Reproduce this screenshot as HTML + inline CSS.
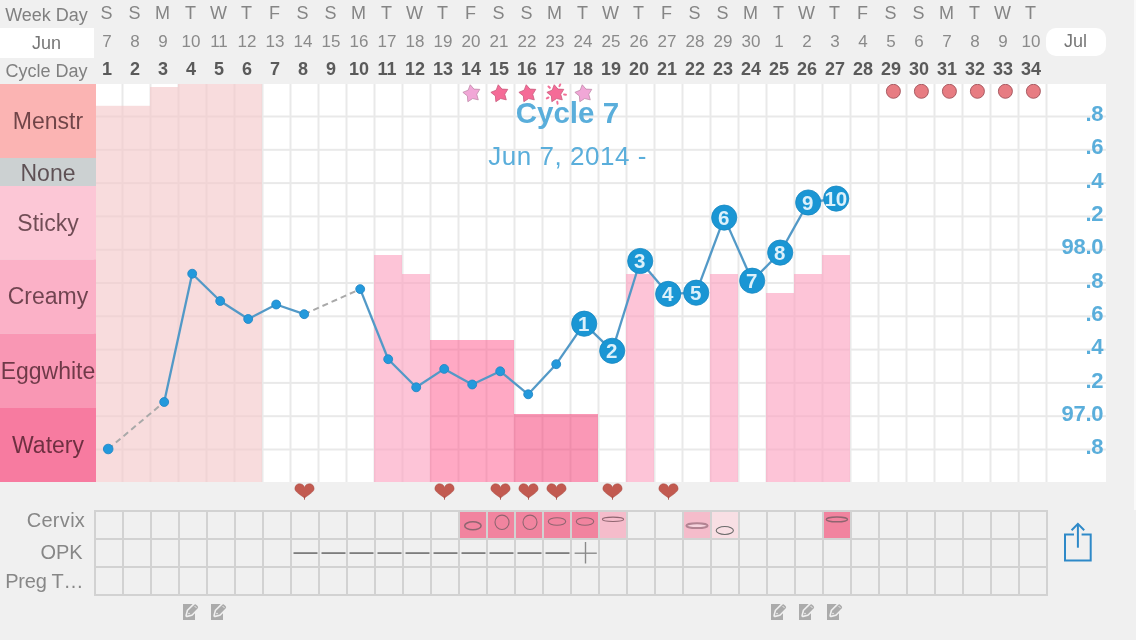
<!DOCTYPE html>
<html><head><meta charset="utf-8"><title>Chart</title>
<style>
html,body{margin:0;padding:0;background:#f0f0f0;}
body{width:1136px;height:640px;overflow:hidden;}
svg{display:block;font-family:"Liberation Sans", Arial, Helvetica, sans-serif;will-change:transform;}
</style></head><body>
<svg width="1136" height="640" viewBox="0 0 1136 640">
<defs><clipPath id="cc"><rect x="96" y="84" width="1010" height="398"/></clipPath></defs>
<rect x="0" y="0" width="1136" height="640" fill="#f0f0f0"/>
<rect x="1134" y="0" width="2" height="510" fill="#fafafa"/>
<rect x="0" y="28" width="94" height="30" fill="#fff"/>
<rect x="1046" y="28" width="60" height="28" rx="10" ry="10" fill="#fff"/>
<rect x="96" y="84" width="1010" height="398" fill="#fff"/>
<rect x="93.5" y="84" width="2" height="398" fill="#e9e9e9"/>
<rect x="121.5" y="84" width="2" height="398" fill="#e9e9e9"/>
<rect x="149.5" y="84" width="2" height="398" fill="#e9e9e9"/>
<rect x="177.5" y="84" width="2" height="398" fill="#e9e9e9"/>
<rect x="205.5" y="84" width="2" height="398" fill="#e9e9e9"/>
<rect x="233.5" y="84" width="2" height="398" fill="#e9e9e9"/>
<rect x="261.5" y="84" width="2" height="398" fill="#e9e9e9"/>
<rect x="289.5" y="84" width="2" height="398" fill="#e9e9e9"/>
<rect x="317.5" y="84" width="2" height="398" fill="#e9e9e9"/>
<rect x="345.5" y="84" width="2" height="398" fill="#e9e9e9"/>
<rect x="373.5" y="84" width="2" height="398" fill="#e9e9e9"/>
<rect x="401.5" y="84" width="2" height="398" fill="#e9e9e9"/>
<rect x="429.5" y="84" width="2" height="398" fill="#e9e9e9"/>
<rect x="457.5" y="84" width="2" height="398" fill="#e9e9e9"/>
<rect x="485.5" y="84" width="2" height="398" fill="#e9e9e9"/>
<rect x="513.5" y="84" width="2" height="398" fill="#e9e9e9"/>
<rect x="541.5" y="84" width="2" height="398" fill="#e9e9e9"/>
<rect x="569.5" y="84" width="2" height="398" fill="#e9e9e9"/>
<rect x="597.5" y="84" width="2" height="398" fill="#e9e9e9"/>
<rect x="625.5" y="84" width="2" height="398" fill="#e9e9e9"/>
<rect x="653.5" y="84" width="2" height="398" fill="#e9e9e9"/>
<rect x="681.5" y="84" width="2" height="398" fill="#e9e9e9"/>
<rect x="709.5" y="84" width="2" height="398" fill="#e9e9e9"/>
<rect x="737.5" y="84" width="2" height="398" fill="#e9e9e9"/>
<rect x="765.5" y="84" width="2" height="398" fill="#e9e9e9"/>
<rect x="793.5" y="84" width="2" height="398" fill="#e9e9e9"/>
<rect x="821.5" y="84" width="2" height="398" fill="#e9e9e9"/>
<rect x="849.5" y="84" width="2" height="398" fill="#e9e9e9"/>
<rect x="877.5" y="84" width="2" height="398" fill="#e9e9e9"/>
<rect x="905.5" y="84" width="2" height="398" fill="#e9e9e9"/>
<rect x="933.5" y="84" width="2" height="398" fill="#e9e9e9"/>
<rect x="961.5" y="84" width="2" height="398" fill="#e9e9e9"/>
<rect x="989.5" y="84" width="2" height="398" fill="#e9e9e9"/>
<rect x="1017.5" y="84" width="2" height="398" fill="#e9e9e9"/>
<rect x="1045.5" y="84" width="2" height="398" fill="#e9e9e9"/>
<rect x="96" y="115.50" width="1010" height="2" fill="#e9e9e9"/>
<rect x="96" y="148.80" width="1010" height="2" fill="#e9e9e9"/>
<rect x="96" y="182.10" width="1010" height="2" fill="#e9e9e9"/>
<rect x="96" y="215.40" width="1010" height="2" fill="#e9e9e9"/>
<rect x="96" y="248.70" width="1010" height="2" fill="#e9e9e9"/>
<rect x="96" y="282.00" width="1010" height="2" fill="#e9e9e9"/>
<rect x="96" y="315.30" width="1010" height="2" fill="#e9e9e9"/>
<rect x="96" y="348.60" width="1010" height="2" fill="#e9e9e9"/>
<rect x="96" y="381.90" width="1010" height="2" fill="#e9e9e9"/>
<rect x="96" y="415.20" width="1010" height="2" fill="#e9e9e9"/>
<rect x="96" y="448.50" width="1010" height="2" fill="#e9e9e9"/>
<rect x="94" y="105.8" width="28" height="376.2" fill="rgba(244,200,202,0.64)"/>
<rect x="122" y="105.8" width="28" height="376.2" fill="rgba(244,200,202,0.64)"/>
<rect x="150" y="87" width="28" height="395" fill="rgba(244,200,202,0.64)"/>
<rect x="178" y="84" width="28" height="398" fill="rgba(244,200,202,0.64)"/>
<rect x="206" y="84" width="28" height="398" fill="rgba(244,200,202,0.64)"/>
<rect x="234" y="84" width="28" height="398" fill="rgba(244,200,202,0.64)"/>
<rect x="374" y="255" width="28" height="227" fill="rgba(252,163,192,0.64)"/>
<rect x="402" y="274" width="28" height="208" fill="rgba(252,163,192,0.64)"/>
<rect x="430" y="340" width="28" height="142" fill="rgba(255,84,138,0.5)"/>
<rect x="458" y="340" width="28" height="142" fill="rgba(255,84,138,0.5)"/>
<rect x="486" y="340" width="28" height="142" fill="rgba(255,84,138,0.5)"/>
<rect x="514" y="414" width="28" height="68" fill="rgba(245,49,109,0.5)"/>
<rect x="542" y="414" width="28" height="68" fill="rgba(245,49,109,0.5)"/>
<rect x="570" y="414" width="28" height="68" fill="rgba(245,49,109,0.5)"/>
<rect x="626" y="274" width="28" height="208" fill="rgba(252,163,192,0.64)"/>
<rect x="710" y="274" width="28" height="208" fill="rgba(252,163,192,0.64)"/>
<rect x="766" y="293" width="28" height="189" fill="rgba(252,163,192,0.64)"/>
<rect x="794" y="274" width="28" height="208" fill="rgba(252,163,192,0.64)"/>
<rect x="822" y="255" width="28" height="227" fill="rgba(252,163,192,0.64)"/>
<rect x="0" y="84" width="96" height="74.00" fill="#fbb4b3"/>
<text x="48" y="128.9" text-anchor="middle" font-size="23" fill="#1a0006" fill-opacity="0.62">Menstr</text>
<rect x="0" y="158" width="96" height="28.00" fill="#ccd1d2"/>
<text x="48" y="181.3" text-anchor="middle" font-size="23" fill="#1a0006" fill-opacity="0.62">None</text>
<rect x="0" y="186" width="96" height="73.50" fill="#fcc7d6"/>
<text x="48" y="230.7" text-anchor="middle" font-size="23" fill="#1a0006" fill-opacity="0.62">Sticky</text>
<rect x="0" y="259.5" width="96" height="74.00" fill="#fbb1c7"/>
<text x="48" y="304.4" text-anchor="middle" font-size="23" fill="#1a0006" fill-opacity="0.62">Creamy</text>
<rect x="0" y="333.5" width="96" height="74.50" fill="#f997b4"/>
<text x="48" y="379.4" text-anchor="middle" font-size="23" fill="#1a0006" fill-opacity="0.62">Eggwhite</text>
<rect x="0" y="408" width="96" height="74.00" fill="#f77ba0"/>
<text x="48" y="452.8" text-anchor="middle" font-size="23" fill="#1a0006" fill-opacity="0.62">Watery</text>
<text x="46.5" y="20.7" text-anchor="middle" font-size="18" fill="#808080">Week Day</text>
<text x="46.5" y="48.8" text-anchor="middle" font-size="18" fill="#777">Jun</text>
<text x="46.5" y="76.8" text-anchor="middle" font-size="18" fill="#808080">Cycle Day</text>
<text x="1075.5" y="47" text-anchor="middle" font-size="18" fill="#777">Jul</text>
<text x="106.6" y="19.2" text-anchor="middle" font-size="18" fill="#858585">S</text>
<text x="107" y="46.6" text-anchor="middle" font-size="17" fill="#8a8a8a">7</text>
<text x="107" y="74.7" text-anchor="middle" font-size="18" font-weight="bold" fill="#5a5a5a">1</text>
<text x="134.6" y="19.2" text-anchor="middle" font-size="18" fill="#858585">S</text>
<text x="135" y="46.6" text-anchor="middle" font-size="17" fill="#8a8a8a">8</text>
<text x="135" y="74.7" text-anchor="middle" font-size="18" font-weight="bold" fill="#5a5a5a">2</text>
<text x="162.6" y="19.2" text-anchor="middle" font-size="18" fill="#858585">M</text>
<text x="163" y="46.6" text-anchor="middle" font-size="17" fill="#8a8a8a">9</text>
<text x="163" y="74.7" text-anchor="middle" font-size="18" font-weight="bold" fill="#5a5a5a">3</text>
<text x="190.6" y="19.2" text-anchor="middle" font-size="18" fill="#858585">T</text>
<text x="191" y="46.6" text-anchor="middle" font-size="17" fill="#8a8a8a">10</text>
<text x="191" y="74.7" text-anchor="middle" font-size="18" font-weight="bold" fill="#5a5a5a">4</text>
<text x="218.6" y="19.2" text-anchor="middle" font-size="18" fill="#858585">W</text>
<text x="219" y="46.6" text-anchor="middle" font-size="17" fill="#8a8a8a">11</text>
<text x="219" y="74.7" text-anchor="middle" font-size="18" font-weight="bold" fill="#5a5a5a">5</text>
<text x="246.6" y="19.2" text-anchor="middle" font-size="18" fill="#858585">T</text>
<text x="247" y="46.6" text-anchor="middle" font-size="17" fill="#8a8a8a">12</text>
<text x="247" y="74.7" text-anchor="middle" font-size="18" font-weight="bold" fill="#5a5a5a">6</text>
<text x="274.6" y="19.2" text-anchor="middle" font-size="18" fill="#858585">F</text>
<text x="275" y="46.6" text-anchor="middle" font-size="17" fill="#8a8a8a">13</text>
<text x="275" y="74.7" text-anchor="middle" font-size="18" font-weight="bold" fill="#5a5a5a">7</text>
<text x="302.6" y="19.2" text-anchor="middle" font-size="18" fill="#858585">S</text>
<text x="303" y="46.6" text-anchor="middle" font-size="17" fill="#8a8a8a">14</text>
<text x="303" y="74.7" text-anchor="middle" font-size="18" font-weight="bold" fill="#5a5a5a">8</text>
<text x="330.6" y="19.2" text-anchor="middle" font-size="18" fill="#858585">S</text>
<text x="331" y="46.6" text-anchor="middle" font-size="17" fill="#8a8a8a">15</text>
<text x="331" y="74.7" text-anchor="middle" font-size="18" font-weight="bold" fill="#5a5a5a">9</text>
<text x="358.6" y="19.2" text-anchor="middle" font-size="18" fill="#858585">M</text>
<text x="359" y="46.6" text-anchor="middle" font-size="17" fill="#8a8a8a">16</text>
<text x="359" y="74.7" text-anchor="middle" font-size="18" font-weight="bold" fill="#5a5a5a">10</text>
<text x="386.6" y="19.2" text-anchor="middle" font-size="18" fill="#858585">T</text>
<text x="387" y="46.6" text-anchor="middle" font-size="17" fill="#8a8a8a">17</text>
<text x="387" y="74.7" text-anchor="middle" font-size="18" font-weight="bold" fill="#5a5a5a">11</text>
<text x="414.6" y="19.2" text-anchor="middle" font-size="18" fill="#858585">W</text>
<text x="415" y="46.6" text-anchor="middle" font-size="17" fill="#8a8a8a">18</text>
<text x="415" y="74.7" text-anchor="middle" font-size="18" font-weight="bold" fill="#5a5a5a">12</text>
<text x="442.6" y="19.2" text-anchor="middle" font-size="18" fill="#858585">T</text>
<text x="443" y="46.6" text-anchor="middle" font-size="17" fill="#8a8a8a">19</text>
<text x="443" y="74.7" text-anchor="middle" font-size="18" font-weight="bold" fill="#5a5a5a">13</text>
<text x="470.6" y="19.2" text-anchor="middle" font-size="18" fill="#858585">F</text>
<text x="471" y="46.6" text-anchor="middle" font-size="17" fill="#8a8a8a">20</text>
<text x="471" y="74.7" text-anchor="middle" font-size="18" font-weight="bold" fill="#5a5a5a">14</text>
<text x="498.6" y="19.2" text-anchor="middle" font-size="18" fill="#858585">S</text>
<text x="499" y="46.6" text-anchor="middle" font-size="17" fill="#8a8a8a">21</text>
<text x="499" y="74.7" text-anchor="middle" font-size="18" font-weight="bold" fill="#5a5a5a">15</text>
<text x="526.6" y="19.2" text-anchor="middle" font-size="18" fill="#858585">S</text>
<text x="527" y="46.6" text-anchor="middle" font-size="17" fill="#8a8a8a">22</text>
<text x="527" y="74.7" text-anchor="middle" font-size="18" font-weight="bold" fill="#5a5a5a">16</text>
<text x="554.6" y="19.2" text-anchor="middle" font-size="18" fill="#858585">M</text>
<text x="555" y="46.6" text-anchor="middle" font-size="17" fill="#8a8a8a">23</text>
<text x="555" y="74.7" text-anchor="middle" font-size="18" font-weight="bold" fill="#5a5a5a">17</text>
<text x="582.6" y="19.2" text-anchor="middle" font-size="18" fill="#858585">T</text>
<text x="583" y="46.6" text-anchor="middle" font-size="17" fill="#8a8a8a">24</text>
<text x="583" y="74.7" text-anchor="middle" font-size="18" font-weight="bold" fill="#5a5a5a">18</text>
<text x="610.6" y="19.2" text-anchor="middle" font-size="18" fill="#858585">W</text>
<text x="611" y="46.6" text-anchor="middle" font-size="17" fill="#8a8a8a">25</text>
<text x="611" y="74.7" text-anchor="middle" font-size="18" font-weight="bold" fill="#5a5a5a">19</text>
<text x="638.6" y="19.2" text-anchor="middle" font-size="18" fill="#858585">T</text>
<text x="639" y="46.6" text-anchor="middle" font-size="17" fill="#8a8a8a">26</text>
<text x="639" y="74.7" text-anchor="middle" font-size="18" font-weight="bold" fill="#5a5a5a">20</text>
<text x="666.6" y="19.2" text-anchor="middle" font-size="18" fill="#858585">F</text>
<text x="667" y="46.6" text-anchor="middle" font-size="17" fill="#8a8a8a">27</text>
<text x="667" y="74.7" text-anchor="middle" font-size="18" font-weight="bold" fill="#5a5a5a">21</text>
<text x="694.6" y="19.2" text-anchor="middle" font-size="18" fill="#858585">S</text>
<text x="695" y="46.6" text-anchor="middle" font-size="17" fill="#8a8a8a">28</text>
<text x="695" y="74.7" text-anchor="middle" font-size="18" font-weight="bold" fill="#5a5a5a">22</text>
<text x="722.6" y="19.2" text-anchor="middle" font-size="18" fill="#858585">S</text>
<text x="723" y="46.6" text-anchor="middle" font-size="17" fill="#8a8a8a">29</text>
<text x="723" y="74.7" text-anchor="middle" font-size="18" font-weight="bold" fill="#5a5a5a">23</text>
<text x="750.6" y="19.2" text-anchor="middle" font-size="18" fill="#858585">M</text>
<text x="751" y="46.6" text-anchor="middle" font-size="17" fill="#8a8a8a">30</text>
<text x="751" y="74.7" text-anchor="middle" font-size="18" font-weight="bold" fill="#5a5a5a">24</text>
<text x="778.6" y="19.2" text-anchor="middle" font-size="18" fill="#858585">T</text>
<text x="779" y="46.6" text-anchor="middle" font-size="17" fill="#8a8a8a">1</text>
<text x="779" y="74.7" text-anchor="middle" font-size="18" font-weight="bold" fill="#5a5a5a">25</text>
<text x="806.6" y="19.2" text-anchor="middle" font-size="18" fill="#858585">W</text>
<text x="807" y="46.6" text-anchor="middle" font-size="17" fill="#8a8a8a">2</text>
<text x="807" y="74.7" text-anchor="middle" font-size="18" font-weight="bold" fill="#5a5a5a">26</text>
<text x="834.6" y="19.2" text-anchor="middle" font-size="18" fill="#858585">T</text>
<text x="835" y="46.6" text-anchor="middle" font-size="17" fill="#8a8a8a">3</text>
<text x="835" y="74.7" text-anchor="middle" font-size="18" font-weight="bold" fill="#5a5a5a">27</text>
<text x="862.6" y="19.2" text-anchor="middle" font-size="18" fill="#858585">F</text>
<text x="863" y="46.6" text-anchor="middle" font-size="17" fill="#8a8a8a">4</text>
<text x="863" y="74.7" text-anchor="middle" font-size="18" font-weight="bold" fill="#5a5a5a">28</text>
<text x="890.6" y="19.2" text-anchor="middle" font-size="18" fill="#858585">S</text>
<text x="891" y="46.6" text-anchor="middle" font-size="17" fill="#8a8a8a">5</text>
<text x="891" y="74.7" text-anchor="middle" font-size="18" font-weight="bold" fill="#5a5a5a">29</text>
<text x="918.6" y="19.2" text-anchor="middle" font-size="18" fill="#858585">S</text>
<text x="919" y="46.6" text-anchor="middle" font-size="17" fill="#8a8a8a">6</text>
<text x="919" y="74.7" text-anchor="middle" font-size="18" font-weight="bold" fill="#5a5a5a">30</text>
<text x="946.6" y="19.2" text-anchor="middle" font-size="18" fill="#858585">M</text>
<text x="947" y="46.6" text-anchor="middle" font-size="17" fill="#8a8a8a">7</text>
<text x="947" y="74.7" text-anchor="middle" font-size="18" font-weight="bold" fill="#5a5a5a">31</text>
<text x="974.6" y="19.2" text-anchor="middle" font-size="18" fill="#858585">T</text>
<text x="975" y="46.6" text-anchor="middle" font-size="17" fill="#8a8a8a">8</text>
<text x="975" y="74.7" text-anchor="middle" font-size="18" font-weight="bold" fill="#5a5a5a">32</text>
<text x="1002.6" y="19.2" text-anchor="middle" font-size="18" fill="#858585">W</text>
<text x="1003" y="46.6" text-anchor="middle" font-size="17" fill="#8a8a8a">9</text>
<text x="1003" y="74.7" text-anchor="middle" font-size="18" font-weight="bold" fill="#5a5a5a">33</text>
<text x="1030.6" y="19.2" text-anchor="middle" font-size="18" fill="#858585">T</text>
<text x="1031" y="46.6" text-anchor="middle" font-size="17" fill="#8a8a8a">10</text>
<text x="1031" y="74.7" text-anchor="middle" font-size="18" font-weight="bold" fill="#5a5a5a">34</text>
<text x="567.4" y="122.5" text-anchor="middle" font-size="29.5" font-weight="bold" fill="#5aaedb">Cycle 7</text>
<text x="567.6" y="165.2" text-anchor="middle" font-size="26" letter-spacing="0.55" fill="#5aaedb">Jun 7, 2014 -</text>
<text x="1103.2" y="121.1" text-anchor="end" font-size="22" font-weight="bold" letter-spacing="-0.3" fill="#5aaedb">.8</text>
<text x="1103.2" y="154.4" text-anchor="end" font-size="22" font-weight="bold" letter-spacing="-0.3" fill="#5aaedb">.6</text>
<text x="1103.2" y="187.7" text-anchor="end" font-size="22" font-weight="bold" letter-spacing="-0.3" fill="#5aaedb">.4</text>
<text x="1103.2" y="221.0" text-anchor="end" font-size="22" font-weight="bold" letter-spacing="-0.3" fill="#5aaedb">.2</text>
<text x="1103.2" y="254.3" text-anchor="end" font-size="22" font-weight="bold" letter-spacing="-0.3" fill="#5aaedb">98.0</text>
<text x="1103.2" y="287.6" text-anchor="end" font-size="22" font-weight="bold" letter-spacing="-0.3" fill="#5aaedb">.8</text>
<text x="1103.2" y="320.9" text-anchor="end" font-size="22" font-weight="bold" letter-spacing="-0.3" fill="#5aaedb">.6</text>
<text x="1103.2" y="354.2" text-anchor="end" font-size="22" font-weight="bold" letter-spacing="-0.3" fill="#5aaedb">.4</text>
<text x="1103.2" y="387.5" text-anchor="end" font-size="22" font-weight="bold" letter-spacing="-0.3" fill="#5aaedb">.2</text>
<text x="1103.2" y="420.8" text-anchor="end" font-size="22" font-weight="bold" letter-spacing="-0.3" fill="#5aaedb">97.0</text>
<text x="1103.2" y="454.1" text-anchor="end" font-size="22" font-weight="bold" letter-spacing="-0.3" fill="#5aaedb">.8</text>
<line x1="108.2" y1="449" x2="164.2" y2="402" stroke="#a9a9a9" stroke-width="2" stroke-dasharray="6,4"/>
<line x1="164.2" y1="402" x2="192.2" y2="273.7" stroke="#5299c7" stroke-width="2.3"/>
<line x1="192.2" y1="273.7" x2="220.2" y2="301" stroke="#5299c7" stroke-width="2.3"/>
<line x1="220.2" y1="301" x2="248.2" y2="319" stroke="#5299c7" stroke-width="2.3"/>
<line x1="248.2" y1="319" x2="276.2" y2="304.5" stroke="#5299c7" stroke-width="2.3"/>
<line x1="276.2" y1="304.5" x2="304.2" y2="314.2" stroke="#5299c7" stroke-width="2.3"/>
<line x1="304.2" y1="314.2" x2="360.2" y2="289.1" stroke="#a9a9a9" stroke-width="2" stroke-dasharray="6,4"/>
<line x1="360.2" y1="289.1" x2="388.2" y2="359.2" stroke="#5299c7" stroke-width="2.3"/>
<line x1="388.2" y1="359.2" x2="416.2" y2="387.3" stroke="#5299c7" stroke-width="2.3"/>
<line x1="416.2" y1="387.3" x2="444.2" y2="368.9" stroke="#5299c7" stroke-width="2.3"/>
<line x1="444.2" y1="368.9" x2="472.2" y2="384.5" stroke="#5299c7" stroke-width="2.3"/>
<line x1="472.2" y1="384.5" x2="500.2" y2="371.3" stroke="#5299c7" stroke-width="2.3"/>
<line x1="500.2" y1="371.3" x2="528.2" y2="394.3" stroke="#5299c7" stroke-width="2.3"/>
<line x1="528.2" y1="394.3" x2="556.2" y2="364.2" stroke="#5299c7" stroke-width="2.3"/>
<line x1="556.2" y1="364.2" x2="584.2" y2="323.7" stroke="#5299c7" stroke-width="2.3"/>
<line x1="584.2" y1="323.7" x2="612.2" y2="350.8" stroke="#5299c7" stroke-width="2.3"/>
<line x1="612.2" y1="350.8" x2="640.2" y2="261" stroke="#5299c7" stroke-width="2.3"/>
<line x1="640.2" y1="261" x2="668.2" y2="293.9" stroke="#5299c7" stroke-width="2.3"/>
<line x1="668.2" y1="293.9" x2="696.2" y2="292.7" stroke="#5299c7" stroke-width="2.3"/>
<line x1="696.2" y1="292.7" x2="724.2" y2="217.6" stroke="#5299c7" stroke-width="2.3"/>
<line x1="724.2" y1="217.6" x2="752.2" y2="280.7" stroke="#5299c7" stroke-width="2.3"/>
<line x1="752.2" y1="280.7" x2="780.2" y2="252.6" stroke="#5299c7" stroke-width="2.3"/>
<line x1="780.2" y1="252.6" x2="808.2" y2="202.5" stroke="#5299c7" stroke-width="2.3"/>
<line x1="808.2" y1="202.5" x2="836.2" y2="198.6" stroke="#5299c7" stroke-width="2.3"/>
<circle cx="108.2" cy="449" r="4.8" fill="#2399dc" stroke="#2488c6" stroke-width="0.9"/>
<circle cx="164.2" cy="402" r="4.45" fill="#2399dc" stroke="#2488c6" stroke-width="0.9"/>
<circle cx="192.2" cy="273.7" r="4.45" fill="#2399dc" stroke="#2488c6" stroke-width="0.9"/>
<circle cx="220.2" cy="301" r="4.45" fill="#2399dc" stroke="#2488c6" stroke-width="0.9"/>
<circle cx="248.2" cy="319" r="4.45" fill="#2399dc" stroke="#2488c6" stroke-width="0.9"/>
<circle cx="276.2" cy="304.5" r="4.45" fill="#2399dc" stroke="#2488c6" stroke-width="0.9"/>
<circle cx="304.2" cy="314.2" r="4.45" fill="#2399dc" stroke="#2488c6" stroke-width="0.9"/>
<circle cx="360.2" cy="289.1" r="4.45" fill="#2399dc" stroke="#2488c6" stroke-width="0.9"/>
<circle cx="388.2" cy="359.2" r="4.45" fill="#2399dc" stroke="#2488c6" stroke-width="0.9"/>
<circle cx="416.2" cy="387.3" r="4.45" fill="#2399dc" stroke="#2488c6" stroke-width="0.9"/>
<circle cx="444.2" cy="368.9" r="4.45" fill="#2399dc" stroke="#2488c6" stroke-width="0.9"/>
<circle cx="472.2" cy="384.5" r="4.45" fill="#2399dc" stroke="#2488c6" stroke-width="0.9"/>
<circle cx="500.2" cy="371.3" r="4.45" fill="#2399dc" stroke="#2488c6" stroke-width="0.9"/>
<circle cx="528.2" cy="394.3" r="4.45" fill="#2399dc" stroke="#2488c6" stroke-width="0.9"/>
<circle cx="556.2" cy="364.2" r="4.45" fill="#2399dc" stroke="#2488c6" stroke-width="0.9"/>
<circle cx="584.2" cy="323.7" r="12.6" fill="#1a96d4" stroke="#1888c2" stroke-width="0.8"/>
<text x="583.8000000000001" y="330.9" text-anchor="middle" font-size="20.5" font-weight="bold" letter-spacing="0" fill="#dcf1fb">1</text>
<circle cx="612.2" cy="350.8" r="12.6" fill="#1a96d4" stroke="#1888c2" stroke-width="0.8"/>
<text x="611.8000000000001" y="358.0" text-anchor="middle" font-size="20.5" font-weight="bold" letter-spacing="0" fill="#dcf1fb">2</text>
<circle cx="640.2" cy="261" r="12.6" fill="#1a96d4" stroke="#1888c2" stroke-width="0.8"/>
<text x="639.8000000000001" y="268.2" text-anchor="middle" font-size="20.5" font-weight="bold" letter-spacing="0" fill="#dcf1fb">3</text>
<circle cx="668.2" cy="293.9" r="12.6" fill="#1a96d4" stroke="#1888c2" stroke-width="0.8"/>
<text x="667.8000000000001" y="301.1" text-anchor="middle" font-size="20.5" font-weight="bold" letter-spacing="0" fill="#dcf1fb">4</text>
<circle cx="696.2" cy="292.7" r="12.6" fill="#1a96d4" stroke="#1888c2" stroke-width="0.8"/>
<text x="695.8000000000001" y="299.9" text-anchor="middle" font-size="20.5" font-weight="bold" letter-spacing="0" fill="#dcf1fb">5</text>
<circle cx="724.2" cy="217.6" r="12.6" fill="#1a96d4" stroke="#1888c2" stroke-width="0.8"/>
<text x="723.8000000000001" y="224.8" text-anchor="middle" font-size="20.5" font-weight="bold" letter-spacing="0" fill="#dcf1fb">6</text>
<circle cx="752.2" cy="280.7" r="12.6" fill="#1a96d4" stroke="#1888c2" stroke-width="0.8"/>
<text x="751.8000000000001" y="287.9" text-anchor="middle" font-size="20.5" font-weight="bold" letter-spacing="0" fill="#dcf1fb">7</text>
<circle cx="780.2" cy="252.6" r="12.6" fill="#1a96d4" stroke="#1888c2" stroke-width="0.8"/>
<text x="779.8000000000001" y="259.8" text-anchor="middle" font-size="20.5" font-weight="bold" letter-spacing="0" fill="#dcf1fb">8</text>
<circle cx="808.2" cy="202.5" r="12.6" fill="#1a96d4" stroke="#1888c2" stroke-width="0.8"/>
<text x="807.8000000000001" y="209.7" text-anchor="middle" font-size="20.5" font-weight="bold" letter-spacing="0" fill="#dcf1fb">9</text>
<circle cx="836.2" cy="198.6" r="12.6" fill="#1a96d4" stroke="#1888c2" stroke-width="0.8"/>
<text x="835.8000000000001" y="205.8" text-anchor="middle" font-size="20.5" font-weight="bold" letter-spacing="-0.2" fill="#dcf1fb">10</text>
<polygon clip-path="url(#cc)" points="470.24,84.74 473.99,89.11 479.75,89.37 476.75,94.30 478.27,99.85 472.67,98.52 467.85,101.69 467.39,95.95 462.89,92.35 468.20,90.13" fill="#f1a7d7" stroke="#c08aaa" stroke-width="0.8" stroke-linejoin="round"/>
<polygon clip-path="url(#cc)" points="498.24,84.74 501.99,89.11 507.75,89.37 504.75,94.30 506.27,99.85 500.67,98.52 495.85,101.69 495.39,95.95 490.89,92.35 496.20,90.13" fill="#f56b97" stroke="#c95a7c" stroke-width="0.8" stroke-linejoin="round"/>
<polygon clip-path="url(#cc)" points="526.24,84.74 529.99,89.11 535.75,89.37 532.75,94.30 534.27,99.85 528.67,98.52 523.85,101.69 523.39,95.95 518.89,92.35 524.20,90.13" fill="#f56b97" stroke="#c95a7c" stroke-width="0.8" stroke-linejoin="round"/>
<polygon clip-path="url(#cc)" points="554.24,84.74 557.99,89.11 563.75,89.37 560.75,94.30 562.27,99.85 556.67,98.52 551.85,101.69 551.39,95.95 546.89,92.35 552.20,90.13" fill="#f56b97" stroke="#c95a7c" stroke-width="0.8" stroke-linejoin="round"/>
<polygon clip-path="url(#cc)" points="582.24,84.74 585.99,89.11 591.75,89.37 588.75,94.30 590.27,99.85 584.67,98.52 579.85,101.69 579.39,95.95 574.89,92.35 580.20,90.13" fill="#f1a7d7" stroke="#c08aaa" stroke-width="0.8" stroke-linejoin="round"/>
<line x1="549.83" y1="87.83" x2="548.46" y2="86.51" stroke="#f27098" stroke-width="2" stroke-linecap="round"/>
<line x1="559.44" y1="86.14" x2="560.27" y2="84.43" stroke="#f27098" stroke-width="2" stroke-linecap="round"/>
<line x1="564.05" y1="94.47" x2="565.94" y2="94.67" stroke="#f27098" stroke-width="2" stroke-linecap="round"/>
<line x1="557.24" y1="101.77" x2="557.57" y2="103.65" stroke="#f27098" stroke-width="2" stroke-linecap="round"/>
<line x1="548.47" y1="97.50" x2="546.79" y2="98.39" stroke="#f27098" stroke-width="2" stroke-linecap="round"/>
<circle clip-path="url(#cc)" cx="893.4000000000001" cy="91.3" r="7.0" fill="#e77c82" stroke="#a0525a" stroke-width="0.9"/>
<circle clip-path="url(#cc)" cx="921.4000000000001" cy="91.3" r="7.0" fill="#e77c82" stroke="#a0525a" stroke-width="0.9"/>
<circle clip-path="url(#cc)" cx="949.4000000000001" cy="91.3" r="7.0" fill="#e77c82" stroke="#a0525a" stroke-width="0.9"/>
<circle clip-path="url(#cc)" cx="977.4000000000001" cy="91.3" r="7.0" fill="#e77c82" stroke="#a0525a" stroke-width="0.9"/>
<circle clip-path="url(#cc)" cx="1005.4000000000001" cy="91.3" r="7.0" fill="#e77c82" stroke="#a0525a" stroke-width="0.9"/>
<circle clip-path="url(#cc)" cx="1033.4" cy="91.3" r="7.0" fill="#e77c82" stroke="#a0525a" stroke-width="0.9"/>
<path d="M304.5,487.4 C303.5,484.6 301.5,483.8 299.5,483.8 C296.5,483.8 294.9,486.2 294.9,488.8 C294.9,491.6 299.0,493.8 304.5,498.0 C310.0,493.8 314.1,491.6 314.1,488.8 C314.1,486.2 312.5,483.8 309.5,483.8 C307.5,483.8 305.5,484.6 304.5,487.4 Z" fill="#c25a50" stroke="#a84c44" stroke-width="0.5"/>
<rect x="304.05" y="496.5" width="0.9" height="3.2" fill="#a84c44"/>
<path d="M444.5,487.4 C443.5,484.6 441.5,483.8 439.5,483.8 C436.5,483.8 434.9,486.2 434.9,488.8 C434.9,491.6 439.0,493.8 444.5,498.0 C450.0,493.8 454.1,491.6 454.1,488.8 C454.1,486.2 452.5,483.8 449.5,483.8 C447.5,483.8 445.5,484.6 444.5,487.4 Z" fill="#c25a50" stroke="#a84c44" stroke-width="0.5"/>
<rect x="444.05" y="496.5" width="0.9" height="3.2" fill="#a84c44"/>
<path d="M500.5,487.4 C499.5,484.6 497.5,483.8 495.5,483.8 C492.5,483.8 490.9,486.2 490.9,488.8 C490.9,491.6 495.0,493.8 500.5,498.0 C506.0,493.8 510.1,491.6 510.1,488.8 C510.1,486.2 508.5,483.8 505.5,483.8 C503.5,483.8 501.5,484.6 500.5,487.4 Z" fill="#c25a50" stroke="#a84c44" stroke-width="0.5"/>
<rect x="500.05" y="496.5" width="0.9" height="3.2" fill="#a84c44"/>
<path d="M528.5,487.4 C527.5,484.6 525.5,483.8 523.5,483.8 C520.5,483.8 518.9,486.2 518.9,488.8 C518.9,491.6 523.0,493.8 528.5,498.0 C534.0,493.8 538.1,491.6 538.1,488.8 C538.1,486.2 536.5,483.8 533.5,483.8 C531.5,483.8 529.5,484.6 528.5,487.4 Z" fill="#c25a50" stroke="#a84c44" stroke-width="0.5"/>
<rect x="528.05" y="496.5" width="0.9" height="3.2" fill="#a84c44"/>
<path d="M556.5,487.4 C555.5,484.6 553.5,483.8 551.5,483.8 C548.5,483.8 546.9,486.2 546.9,488.8 C546.9,491.6 551.0,493.8 556.5,498.0 C562.0,493.8 566.1,491.6 566.1,488.8 C566.1,486.2 564.5,483.8 561.5,483.8 C559.5,483.8 557.5,484.6 556.5,487.4 Z" fill="#c25a50" stroke="#a84c44" stroke-width="0.5"/>
<rect x="556.05" y="496.5" width="0.9" height="3.2" fill="#a84c44"/>
<path d="M612.5,487.4 C611.5,484.6 609.5,483.8 607.5,483.8 C604.5,483.8 602.9,486.2 602.9,488.8 C602.9,491.6 607.0,493.8 612.5,498.0 C618.0,493.8 622.1,491.6 622.1,488.8 C622.1,486.2 620.5,483.8 617.5,483.8 C615.5,483.8 613.5,484.6 612.5,487.4 Z" fill="#c25a50" stroke="#a84c44" stroke-width="0.5"/>
<rect x="612.05" y="496.5" width="0.9" height="3.2" fill="#a84c44"/>
<path d="M668.5,487.4 C667.5,484.6 665.5,483.8 663.5,483.8 C660.5,483.8 658.9,486.2 658.9,488.8 C658.9,491.6 663.0,493.8 668.5,498.0 C674.0,493.8 678.1,491.6 678.1,488.8 C678.1,486.2 676.5,483.8 673.5,483.8 C671.5,483.8 669.5,484.6 668.5,487.4 Z" fill="#c25a50" stroke="#a84c44" stroke-width="0.5"/>
<rect x="668.05" y="496.5" width="0.9" height="3.2" fill="#a84c44"/>
<rect x="460" y="512" width="26" height="26" fill="#f1849f"/>
<rect x="488" y="512" width="26" height="26" fill="#f1849f"/>
<rect x="516" y="512" width="26" height="26" fill="#f1849f"/>
<rect x="544" y="512" width="26" height="26" fill="#f1849f"/>
<rect x="572" y="512" width="26" height="26" fill="#f1849f"/>
<rect x="600" y="512" width="26" height="26" fill="#f5bccb"/>
<rect x="684" y="512" width="26" height="26" fill="#f5bccb"/>
<rect x="712" y="512" width="26" height="26" fill="#f8dfe4"/>
<rect x="824" y="512" width="26" height="26" fill="#f1849f"/>
<rect x="94" y="510" width="2" height="86" fill="#d2d2d2"/>
<rect x="122" y="510" width="2" height="86" fill="#d2d2d2"/>
<rect x="150" y="510" width="2" height="86" fill="#d2d2d2"/>
<rect x="178" y="510" width="2" height="86" fill="#d2d2d2"/>
<rect x="206" y="510" width="2" height="86" fill="#d2d2d2"/>
<rect x="234" y="510" width="2" height="86" fill="#d2d2d2"/>
<rect x="262" y="510" width="2" height="86" fill="#d2d2d2"/>
<rect x="290" y="510" width="2" height="86" fill="#d2d2d2"/>
<rect x="318" y="510" width="2" height="86" fill="#d2d2d2"/>
<rect x="346" y="510" width="2" height="86" fill="#d2d2d2"/>
<rect x="374" y="510" width="2" height="86" fill="#d2d2d2"/>
<rect x="402" y="510" width="2" height="86" fill="#d2d2d2"/>
<rect x="430" y="510" width="2" height="86" fill="#d2d2d2"/>
<rect x="458" y="510" width="2" height="86" fill="#d2d2d2"/>
<rect x="486" y="510" width="2" height="86" fill="#d2d2d2"/>
<rect x="514" y="510" width="2" height="86" fill="#d2d2d2"/>
<rect x="542" y="510" width="2" height="86" fill="#d2d2d2"/>
<rect x="570" y="510" width="2" height="86" fill="#d2d2d2"/>
<rect x="598" y="510" width="2" height="86" fill="#d2d2d2"/>
<rect x="626" y="510" width="2" height="86" fill="#d2d2d2"/>
<rect x="654" y="510" width="2" height="86" fill="#d2d2d2"/>
<rect x="682" y="510" width="2" height="86" fill="#d2d2d2"/>
<rect x="710" y="510" width="2" height="86" fill="#d2d2d2"/>
<rect x="738" y="510" width="2" height="86" fill="#d2d2d2"/>
<rect x="766" y="510" width="2" height="86" fill="#d2d2d2"/>
<rect x="794" y="510" width="2" height="86" fill="#d2d2d2"/>
<rect x="822" y="510" width="2" height="86" fill="#d2d2d2"/>
<rect x="850" y="510" width="2" height="86" fill="#d2d2d2"/>
<rect x="878" y="510" width="2" height="86" fill="#d2d2d2"/>
<rect x="906" y="510" width="2" height="86" fill="#d2d2d2"/>
<rect x="934" y="510" width="2" height="86" fill="#d2d2d2"/>
<rect x="962" y="510" width="2" height="86" fill="#d2d2d2"/>
<rect x="990" y="510" width="2" height="86" fill="#d2d2d2"/>
<rect x="1018" y="510" width="2" height="86" fill="#d2d2d2"/>
<rect x="1046" y="510" width="2" height="86" fill="#d2d2d2"/>
<rect x="94" y="510" width="954" height="2" fill="#d2d2d2"/>
<rect x="94" y="538" width="954" height="2" fill="#d2d2d2"/>
<rect x="94" y="566" width="954" height="2" fill="#d2d2d2"/>
<rect x="94" y="594" width="954" height="2" fill="#d2d2d2"/>
<ellipse cx="472.9" cy="525.8" rx="8.2" ry="4.0" fill="none" stroke="#8f6570" stroke-width="1.5"/>
<ellipse cx="502" cy="522.3" rx="7" ry="7.2" fill="none" stroke="#8f6570" stroke-width="1.1"/>
<ellipse cx="530" cy="522.3" rx="7" ry="7.2" fill="none" stroke="#8f6570" stroke-width="1.1"/>
<ellipse cx="557" cy="521.5" rx="8.7" ry="3.8" fill="none" stroke="#8f6570" stroke-width="1.1"/>
<ellipse cx="585" cy="521.5" rx="8.7" ry="3.8" fill="none" stroke="#8f6570" stroke-width="1.1"/>
<ellipse cx="613" cy="519.3" rx="10.6" ry="2.2" fill="none" stroke="#8f6570" stroke-width="1.1"/>
<ellipse cx="697" cy="525.7" rx="10.6" ry="2.4" fill="#f6d3dd" stroke="#b38392" stroke-width="2"/>
<ellipse cx="724.8" cy="530.5" rx="8.6" ry="4" fill="none" stroke="#6a6a6a" stroke-width="1.1"/>
<ellipse cx="836.9" cy="519.4" rx="10.6" ry="2.4" fill="none" stroke="#8f6570" stroke-width="1.4"/>
<rect x="293.5" y="552.2" width="24" height="1.8" fill="#7d7d7d"/>
<rect x="321.5" y="552.2" width="24" height="1.8" fill="#7d7d7d"/>
<rect x="349.5" y="552.2" width="24" height="1.8" fill="#7d7d7d"/>
<rect x="377.5" y="552.2" width="24" height="1.8" fill="#7d7d7d"/>
<rect x="405.5" y="552.2" width="24" height="1.8" fill="#7d7d7d"/>
<rect x="433.5" y="552.2" width="24" height="1.8" fill="#7d7d7d"/>
<rect x="461.5" y="552.2" width="24" height="1.8" fill="#7d7d7d"/>
<rect x="489.5" y="552.2" width="24" height="1.8" fill="#7d7d7d"/>
<rect x="517.5" y="552.2" width="24" height="1.8" fill="#7d7d7d"/>
<rect x="545.5" y="552.2" width="24" height="1.8" fill="#7d7d7d"/>
<rect x="574.6" y="552.5" width="22.2" height="1.4" fill="#8a8a8a"/>
<rect x="584.8" y="542" width="1.4" height="21.5" fill="#8a8a8a"/>
<text x="85.2" y="527.4" text-anchor="end" font-size="20" letter-spacing="0.3" fill="#878787">Cervix</text>
<text x="82.7" y="559.4" text-anchor="end" font-size="20" fill="#878787">OPK</text>
<text x="83.2" y="588.3" text-anchor="end" font-size="20" letter-spacing="-0.25" fill="#878787">Preg T…</text>
<g transform="translate(0,0)"><rect x="183" y="604" width="12" height="16" fill="#ababab"/><g transform="translate(186.9,615.6) rotate(-45)"><path d="M0,0 L4.2,-2.5 H12.6 Q14.3,-2.5 14.3,-0.8 V0.8 Q14.3,2.5 12.6,2.5 H4.2 Z" fill="#ababab" stroke="#f0f0f0" stroke-width="3.2" stroke-linejoin="round" paint-order="stroke"/><circle cx="3.0" cy="0" r="0.8" fill="#f0f0f0"/><line x1="12.2" y1="-1.3" x2="12.2" y2="1.3" stroke="#f0f0f0" stroke-width="0.9"/></g></g>
<g transform="translate(28,0)"><rect x="183" y="604" width="12" height="16" fill="#ababab"/><g transform="translate(186.9,615.6) rotate(-45)"><path d="M0,0 L4.2,-2.5 H12.6 Q14.3,-2.5 14.3,-0.8 V0.8 Q14.3,2.5 12.6,2.5 H4.2 Z" fill="#ababab" stroke="#f0f0f0" stroke-width="3.2" stroke-linejoin="round" paint-order="stroke"/><circle cx="3.0" cy="0" r="0.8" fill="#f0f0f0"/><line x1="12.2" y1="-1.3" x2="12.2" y2="1.3" stroke="#f0f0f0" stroke-width="0.9"/></g></g>
<g transform="translate(588,0)"><rect x="183" y="604" width="12" height="16" fill="#ababab"/><g transform="translate(186.9,615.6) rotate(-45)"><path d="M0,0 L4.2,-2.5 H12.6 Q14.3,-2.5 14.3,-0.8 V0.8 Q14.3,2.5 12.6,2.5 H4.2 Z" fill="#ababab" stroke="#f0f0f0" stroke-width="3.2" stroke-linejoin="round" paint-order="stroke"/><circle cx="3.0" cy="0" r="0.8" fill="#f0f0f0"/><line x1="12.2" y1="-1.3" x2="12.2" y2="1.3" stroke="#f0f0f0" stroke-width="0.9"/></g></g>
<g transform="translate(616,0)"><rect x="183" y="604" width="12" height="16" fill="#ababab"/><g transform="translate(186.9,615.6) rotate(-45)"><path d="M0,0 L4.2,-2.5 H12.6 Q14.3,-2.5 14.3,-0.8 V0.8 Q14.3,2.5 12.6,2.5 H4.2 Z" fill="#ababab" stroke="#f0f0f0" stroke-width="3.2" stroke-linejoin="round" paint-order="stroke"/><circle cx="3.0" cy="0" r="0.8" fill="#f0f0f0"/><line x1="12.2" y1="-1.3" x2="12.2" y2="1.3" stroke="#f0f0f0" stroke-width="0.9"/></g></g>
<g transform="translate(644,0)"><rect x="183" y="604" width="12" height="16" fill="#ababab"/><g transform="translate(186.9,615.6) rotate(-45)"><path d="M0,0 L4.2,-2.5 H12.6 Q14.3,-2.5 14.3,-0.8 V0.8 Q14.3,2.5 12.6,2.5 H4.2 Z" fill="#ababab" stroke="#f0f0f0" stroke-width="3.2" stroke-linejoin="round" paint-order="stroke"/><circle cx="3.0" cy="0" r="0.8" fill="#f0f0f0"/><line x1="12.2" y1="-1.3" x2="12.2" y2="1.3" stroke="#f0f0f0" stroke-width="0.9"/></g></g>
<path d="M1074,534.5 H1065 V560.5 H1090.7 V534.5 H1081.6" fill="none" stroke="#2e89c8" stroke-width="2"/>
<path d="M1077.9,547.7 V524.5" fill="none" stroke="#2e89c8" stroke-width="2"/>
<path d="M1071.6,530.2 L1077.9,523.9 L1084.2,530.2" fill="none" stroke="#2e89c8" stroke-width="2"/>
</svg>
</body></html>
